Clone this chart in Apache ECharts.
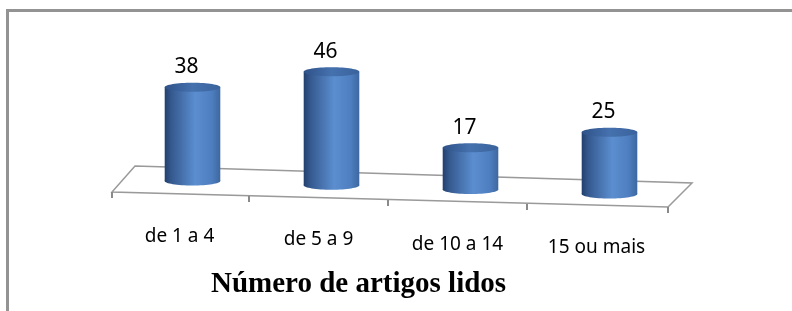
<!DOCTYPE html>
<html>
<head>
<meta charset="utf-8">
<script src="https://cdn.jsdelivr.net/npm/echarts@6/dist/echarts.min.js"></script>
<style>
html,body{margin:0;padding:0;background:#fff;}
#chart{width:792px;height:311px;}
</style>
</head>
<body>
<div id="chart"></div>
<script>
var categories = ['de 1 a 4', 'de 5 a 9', 'de 10 a 14', '15 ou mais'];
var values = [38, 46, 17, 25];
var axisTitle = 'Número de artigos lidos';

var chart = echarts.init(document.getElementById('chart'), null, {renderer: 'canvas'});

var DEPTH = 4.3;   // perspective drop per category (px)
var RY = 4.5;      // ellipse half-height of cylinder caps

var bodyGrad = function () {
  return new echarts.graphic.LinearGradient(0, 0, 1, 0, [
    {offset: 0, color: '#22406e'},
    {offset: 0.12, color: '#35598f'},
    {offset: 0.55, color: '#5b8ed0'},
    {offset: 0.85, color: '#4e7ebf'},
    {offset: 1, color: '#3d679f'}
  ]);
};

function renderCylinder(params, api) {
  var i = params.dataIndex;
  var val = api.value(1);
  var base = api.coord([i, 0]);
  var top = api.coord([i, val]);
  var w = api.size([1, 0])[0] * 0.4;
  var cx = base[0];
  var by = base[1] + i * DEPTH;
  var ty = top[1] + i * DEPTH;
  return {
    type: 'group',
    children: [
      {type: 'ellipse', shape: {cx: cx, cy: by, rx: w / 2, ry: RY}, style: {fill: bodyGrad()}},
      {type: 'rect', shape: {x: cx - w / 2, y: ty, width: w, height: by - ty}, style: {fill: bodyGrad()}},
      {type: 'ellipse', shape: {cx: cx, cy: ty, rx: w / 2, ry: RY},
        style: {fill: new echarts.graphic.LinearGradient(0, 0, 1, 0, [
          {offset: 0, color: '#2f5288'},
          {offset: 0.5, color: '#4571ae'},
          {offset: 1, color: '#3a639c'}
        ])}},
      {type: 'text', x: cx - 6, y: ty - RY - 5,
        style: {text: String(val), fill: '#000', font: '21px "Noto Sans"', align: 'center', verticalAlign: 'bottom'}}
    ]
  };
}

var labelPadTop = [0, 3, 8, 11];
var rich = {};
categories.forEach(function (c, k) {
  rich['c' + k] = {fontFamily: 'Noto Sans', fontSize: 19, color: '#000', padding: [labelPadTop[k], 26, 0, 0]};
});

// floor (perspective plot-area plane) and tick marks
var floorPts = [[135, 166], [692, 183], [668, 207], [112, 192]];
var floorTicks = [[112, 192], [249, 196], [388, 200], [527, 204], [668, 207]];

var graphics = [
  {type: 'rect', shape: {x: 7.5, y: 10.5, width: 820, height: 400}, style: {fill: 'none', stroke: '#939393', lineWidth: 3}, z: 10},
  {type: 'polygon', shape: {points: floorPts}, style: {fill: 'none', stroke: '#9a9a9a', lineWidth: 1.5}, z: 0}
];
floorTicks.forEach(function (p) {
  graphics.push({type: 'line', shape: {x1: p[0], y1: p[1], x2: p[0], y2: p[1] + 6}, style: {stroke: '#8a8a8a', lineWidth: 2}, z: 0});
});

chart.setOption({
  animation: false,
  backgroundColor: '#fff',
  title: {
    text: axisTitle,
    left: 206, top: 265,
    textStyle: {fontFamily: 'Liberation Serif', fontWeight: 'bold', fontSize: 29, color: '#000'}
  },
  grid: {left: 123, width: 556, top: 33, height: 148},
  xAxis: {
    type: 'category',
    data: categories,
    axisLine: {show: false},
    axisTick: {show: false},
    axisLabel: {
      margin: 46,
      formatter: function (v, idx) { return '{c' + idx + '|' + v + '}'; },
      rich: rich
    }
  },
  yAxis: {
    type: 'value', min: 0, max: 60,
    show: false
  },
  graphic: graphics,
  series: [{
    type: 'custom',
    renderItem: renderCylinder,
    data: values.map(function (v, i) { return [i, v]; }),
    z: 5
  }]
});
</script>
</body>
</html>
